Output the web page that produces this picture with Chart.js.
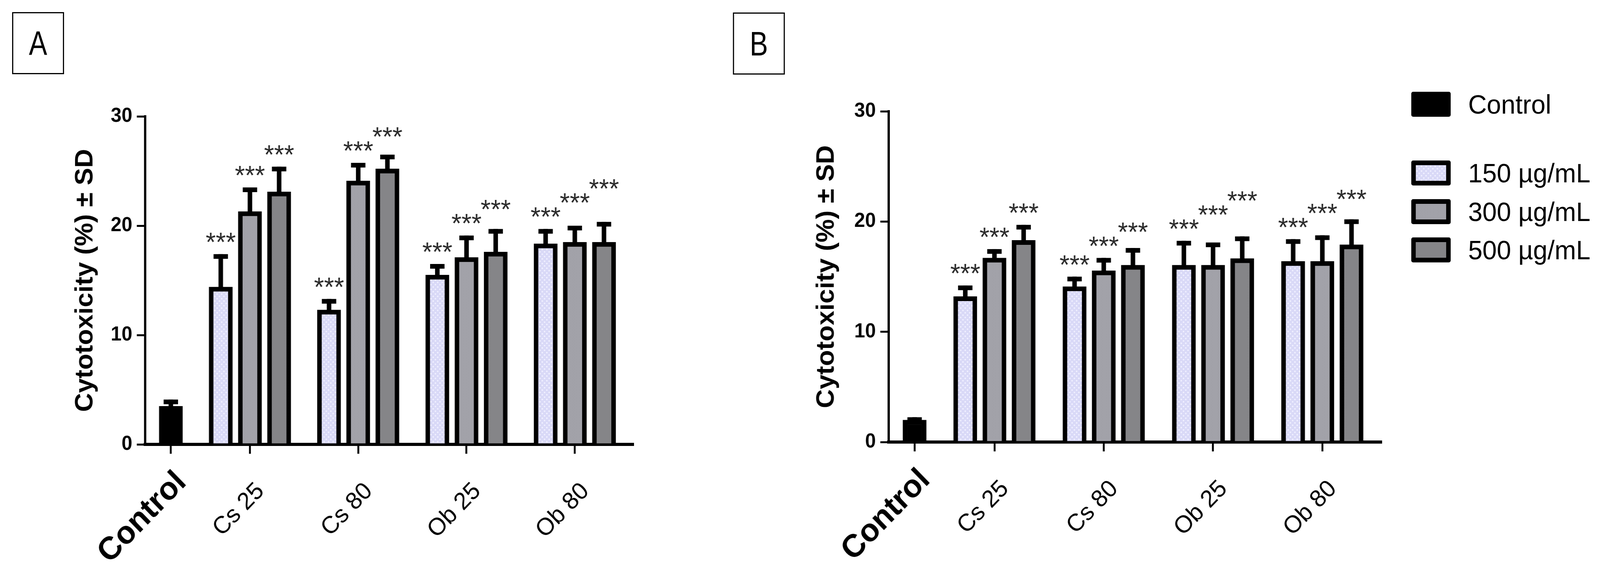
<!DOCTYPE html>
<html>
<head>
<meta charset="utf-8">
<script src="https://cdn.jsdelivr.net/npm/chart.js@4.4.1/dist/chart.umd.min.js"></script>
<style>
  html, body { margin: 0; padding: 0; background: #fff; overflow: hidden; }
  #page { width: 4222px; height: 1452px; position: relative; transform-origin: 0 0;
          font-family: "Liberation Sans", Arial, sans-serif; color: #000; }
  .tag { position: absolute; width: 137px; height: 159px; border: 3px solid #000; box-sizing: border-box;
         display: flex; align-items: center; justify-content: center; font-size: 88px; }
  .tag span { display: inline-block; transform: scaleX(0.82); }
  #tagA { left: 32px; top: 31px; }
  #tagB { left: 1934px; top: 32px; }
  canvas { position: absolute; top: 0; }
  #chartA { left: 0; }
  #chartB { left: 1950px; }
  .leg { position: absolute; left: 3724px; display: flex; align-items: center; white-space: nowrap;
         font-size: 68px; height: 64px; }
  .sw { width: 104px; height: 64px; border: 12px solid #000; box-sizing: border-box; border-radius: 5px;
        margin-right: 46px; background-repeat: repeat; }
</style>
</head>
<body>
<div id="page">
  <div class="tag" id="tagA"><span>A</span></div>
  <div class="tag" id="tagB"><span>B</span></div>
  <canvas id="chartA" width="1750" height="1452" style="width:1750px;height:1452px"></canvas>
  <canvas id="chartB" width="1750" height="1452" style="width:1750px;height:1452px"></canvas>
  <div id="legend"></div>
</div>

<script>
/* ---------- data ---------- */
const categories = ["Control", "Cs 25", "Cs 80", "Ob 25", "Ob 80"];
const seriesNames = ["Control", "150 µg/mL", "300 µg/mL", "500 µg/mL"];
const yTicks = [0, 10, 20, 30];
const yTitle = "Cytotoxicity (%) ± SD";
const stars = ["", "***", "***", "***", "***"];   // same marks for every dose series

// panel A
const ctrlA   = [3.5, null, null, null, null];
const ctrlAsd = [0.6, null, null, null, null];
const a150    = [null, 14.4, 12.3, 15.5, 18.35];
const a150sd  = [null, 3.0, 1.0, 1.0, 1.35];
const a300    = [null, 21.3, 24.1, 17.1, 18.5];
const a300sd  = [null, 2.2, 1.65, 2.0, 1.5];
const a500    = [null, 23.1, 25.2, 17.6, 18.5];
const a500sd  = [null, 2.3, 1.3, 2.1, 1.85];

// panel B
const ctrlB   = [2.0, null, null, null, null];
const ctrlBsd = [0.25, null, null, null, null];
const b150    = [null, 13.2, 14.1, 16.05, 16.4];
const b150sd  = [null, 1.0, 0.9, 2.2, 2.0];
const b300    = [null, 16.7, 15.55, 16.05, 16.4];
const b300sd  = [null, 0.8, 1.15, 2.05, 2.35];
const b500    = [null, 18.3, 16.05, 16.65, 17.9];
const b500sd  = [null, 1.4, 1.55, 2.0, 2.3];

/* ---------- look ---------- */
const FONT = '"Liberation Sans", Arial, sans-serif';
const GAP = 0.71;        // space between groups, in bar slots (Prism style)
const SLOT = 77;         // px per bar slot
const BAR_W = 62;
const STAR_LIFT = 8;     // baseline of *** above the error cap
const STAR_STEP = 36;    // neighbouring marks in a group climb at least this much

// the page is laid out at 4222x1452; squeeze it into the real viewport
const page = document.getElementById("page");
const sx = window.innerWidth / 4222, sy = window.innerHeight / 1452;
if (Math.abs(sx - 1) > 0.002 || Math.abs(sy - 1) > 0.002) page.style.transform = `scale(${sx}, ${sy})`;

function tile(kind, base, alt) {
  const c = document.createElement("canvas");
  c.width = c.height = kind === "dots" ? 12 : 4;
  const g = c.getContext("2d");
  g.fillStyle = base; g.fillRect(0, 0, c.width, c.height);
  g.fillStyle = alt;
  if (kind === "dots") {
    g.beginPath(); g.arc(3, 3, 2.2, 0, 7); g.arc(9, 9, 2.2, 0, 7); g.fill();
  } else {
    g.fillRect(0, 0, 2, 2); g.fillRect(2, 2, 2, 2);
  }
  return c;
}
const tiles = [
  null,
  tile("dots", "#d9d9f7", "#efefff"),
  tile("check", "#a9a9b0", "#9b9ba2"),
  tile("check", "#8d8d90", "#7d7d80"),
];
const pctx = document.createElement("canvas").getContext("2d");
const fills = ["#000", ...tiles.slice(1).map(t => pctx.createPattern(t, "repeat"))];

/* group centres follow the number of bars in each group */
function groupCenters(seriesList) {
  const counts = categories.map((_, i) => seriesList.filter(s => s[i] != null).length);
  const pos = [0];
  for (let i = 1; i < counts.length; i++) pos.push(pos[i - 1] + (counts[i - 1] + counts[i]) / 2 + GAP);
  return pos;
}

/* error bars + significance marks (marks in a group are staggered like Prism does) */
const errorBars = {
  id: "errorBars",
  afterDatasetsDraw(chart) {
    const { ctx } = chart;
    const y = chart.scales.y;
    const lastMark = {};
    ctx.save();
    chart.data.datasets.forEach((ds, d) => {
      chart.getDatasetMeta(d).data.forEach((bar, i) => {
        const v = ds.data[i].y, sd = ds.sd[i];
        if (v == null || sd == null) return;
        const top = y.getPixelForValue(v + sd);
        ctx.fillStyle = "#000";
        ctx.fillRect(bar.x - 6, top, 12, bar.y - top + 6);
        ctx.fillRect(bar.x - 19, top, 38, 12);
        if (ds.marks[i]) {
          let base = top - STAR_LIFT;
          if (lastMark[i] != null) base = Math.min(base, lastMark[i] - STAR_STEP);
          lastMark[i] = base;
          ctx.fillStyle = "#2a2a2a";
          ctx.font = "68px " + FONT;
          ctx.textAlign = "center";
          ctx.textBaseline = "alphabetic";
          ctx.fillText(ds.marks[i], bar.x, base);
        }
      });
    });
    ctx.restore();
  }
};

function makeChart(id, series, sds, lay) {
  const pos = groupCenters(series);
  const datasets = series.map((s, k) => ({
    label: seriesNames[k],
    data: s.map((v, i) => ({ x: pos[i], y: v })),
    sd: sds[k],
    marks: k === 0 ? [] : stars,
    backgroundColor: fills[k],
    borderColor: "#000",
    borderWidth: 12,
    borderSkipped: "start",
    barThickness: SLOT,
    maxBarThickness: BAR_W,
    skipNull: true,
  }));
  return new Chart(document.getElementById(id), {
    type: "bar",
    data: { datasets },
    options: {
      responsive: false,
      animation: false,
      devicePixelRatio: 1,
      layout: { padding: { left: 150, top: lay.top, right: lay.right, bottom: 0 } },
      plugins: { legend: { display: false }, tooltip: { enabled: false } },
      scales: {
        x: {
          type: "linear",
          offset: false,
          min: pos[0] - 0.88,
          max: pos[pos.length - 1] + 1.99,
          afterBuildTicks: (sc) => { sc.ticks = pos.map(v => ({ value: v })); },
          afterFit: (sc) => { sc.height = lay.xHeight; },
          border: { display: true, color: "#000", width: 8 },
          grid: { display: true, offset: false, drawOnChartArea: false, drawTicks: true, tickLength: 24, lineWidth: 5, color: "#000" },
          ticks: {
            autoSkip: false, minRotation: 45, maxRotation: 45,
            padding: 60, labelOffset: 28, color: "#000",
            callback: (v, i) => categories[i],
            font: (c) => c.index === 0
              ? { family: FONT, size: 82, weight: "bold", lineHeight: 0.02 }
              : { family: FONT, size: 62, weight: "normal", lineHeight: 1.2 },
          },
        },
        y: {
          min: yTicks[0], max: yTicks[yTicks.length - 1],
          afterBuildTicks: (sc) => { sc.ticks = yTicks.map(v => ({ value: v })); },
          afterFit: (sc) => { sc.width = lay.yWidth; },
          border: { display: true, color: "#000", width: 6 },
          grid: { display: true, drawOnChartArea: false, drawTicks: true, tickLength: 22, lineWidth: 5, color: "#000" },
          ticks: { padding: 12, color: "#000", font: { family: FONT, size: 51, weight: "bold" } },
          title: {
            display: true, text: yTitle, color: "#000",
            font: { family: FONT, size: 67, weight: "bold" },
            padding: { top: lay.titlePad, bottom: 0 },
          },
        },
      },
    },
    plugins: [errorBars],
  });
}

makeChart("chartA", [ctrlA, a150, a300, a500], [ctrlAsd, a150sd, a300sd, a500sd],
  { top: 298, right: 80, xHeight: 314, yWidth: 233, titlePad: 35 });
makeChart("chartB", [ctrlB, b150, b300, b500], [ctrlBsd, b150sd, b300sd, b500sd],
  { top: 285, right: 56, xHeight: 320, yWidth: 245, titlePad: 41 });

/* ---------- legend ---------- */
const legTops = [235, 411, 510, 608];
document.getElementById("legend").innerHTML = seriesNames.map((n, k) => {
  const bg = k === 0 ? "background:#000;" : `background-image:url(${tiles[k].toDataURL()});`;
  return `<div class="leg" style="top:${legTops[k]}px"><span class="sw" style="${bg}"></span>${n}</div>`;
}).join("");
</script>
</body>
</html>
